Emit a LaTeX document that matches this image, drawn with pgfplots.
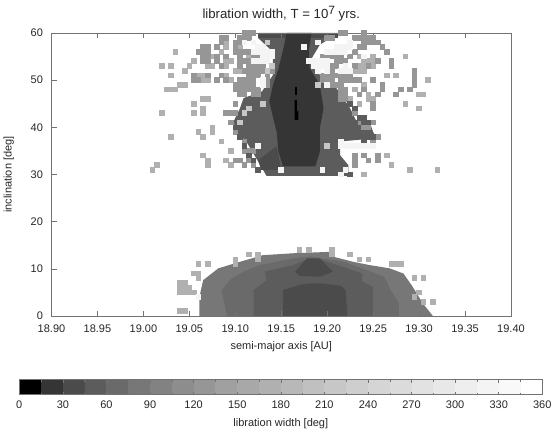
\documentclass[border=0pt]{standalone}
\usepackage{pgfplots}
\pgfplotsset{compat=1.18}
\usepackage{fontspec}
\setmainfont{Liberation Sans}
\definecolor{L0}{gray}{0}\definecolor{L1}{gray}{.208}\definecolor{L2}{gray}{.295}\definecolor{L3}{gray}{.361}
\definecolor{L4}{gray}{.417}\definecolor{L5}{gray}{.466}\definecolor{L6}{gray}{.511}\definecolor{L7}{gray}{.552}
\definecolor{L8}{gray}{.590}\definecolor{L9}{gray}{.626}\definecolor{L10}{gray}{.659}\definecolor{L11}{gray}{.692}
\definecolor{L12}{gray}{.722}\definecolor{L13}{gray}{.752}\definecolor{L14}{gray}{.780}\definecolor{L15}{gray}{.808}
\definecolor{L16}{gray}{.834}\definecolor{L17}{gray}{.860}\definecolor{L18}{gray}{.885}\definecolor{L19}{gray}{.909}
\definecolor{L20}{gray}{.933}\definecolor{L21}{gray}{.956}\definecolor{L22}{gray}{.978}\definecolor{L23}{gray}{1}
\definecolor{axc}{gray}{.45}\definecolor{txt}{gray}{.15}
\pgfplotsset{
  cell/.style={only marks,color=#1,mark=square*,mark size=2.3bp,mark options={draw=#1,fill=#1,line width=0pt}},
  reg/.style={fill=#1,draw=none,mark=none,forget plot},
  lev/.style={fill=#1,draw=none,mark=none,forget plot},
}
\begin{document}
\begin{tikzpicture}[x=1bp,y=1bp,font=\fontsize{11bp}{13bp}\selectfont]
\useasboundingbox (-51.5bp,-116bp) rectangle (500.5bp,316bp);
\begin{axis}[
  at={(0,0)},anchor=south west,scale only axis,width=459.5bp,height=283bp,
  xmin=18.9,xmax=19.4,ymin=0,ymax=60,
  xtick={18.90,18.95,19.00,19.05,19.10,19.15,19.20,19.25,19.30,19.35,19.40},
  ytick={0,10,20,30,40,50,60},
  ytick pos=left,
  tick align=inside,major tick length=5.5bp,
  tick style={color=axc,line width=.6bp},
  axis line style={color=axc,line width=.8bp},
  axis on top,
  /pgf/number format/assume math mode=true,
  ticklabel style={text=txt},
  xticklabel style={/pgf/number format/fixed,/pgf/number format/fixed zerofill,/pgf/number format/precision=2,yshift=-5bp},
  yticklabel style={xshift=-5bp},
  xlabel={semi-major axis [AU]},ylabel={inclination [deg]},
  xlabel style={yshift=-2bp},
  ylabel style={yshift=10bp},
  label style={text=txt},
  title={libration width, T = 10\raisebox{.55ex}{\fontsize{12bp}{12bp}\selectfont 7} yrs.},
  title style={text=txt,font=\fontsize{13.2bp}{15bp}\selectfont,yshift=2bp},
]
% lower dome
\addplot[reg=L5] coordinates {(19.061,0)(19.061,4.1)(19.065,7.6)(19.0815,10.1)(19.1,11.2)(19.13,12.9)(19.163,13.3)(19.203,13.6)(19.206,12.6)(19.228,11.5)(19.246,10.8)(19.268,10.1)(19.283,9)(19.293,6.2)(19.304,2.7)(19.315,0)} --cycle;
\addplot[reg=L4] coordinates {(19.091,0)(19.085,5.5)(19.096,8)(19.109,9.4)(19.127,10.8)(19.163,12.2)(19.182,12.6)(19.218,11.5)(19.238,10.1)(19.262,8.3)(19.269,5.5)(19.278,2.7)(19.278,0)} --cycle;
\addplot[reg=L3] coordinates {(19.12,0)(19.12,5.5)(19.134,7.6)(19.132,9.4)(19.163,10.8)(19.176,11.9)(19.193,11.9)(19.218,10.4)(19.238,9)(19.238,7.3)(19.25,6.2)(19.25,0)} --cycle;
\addplot[reg=L2] coordinates {(19.165,9.4)(19.178,12.2)(19.192,12.2)(19.206,9.4)(19.192,8.3)(19.17,8.5)} --cycle;
\addplot[reg=L2] coordinates {(19.152,0)(19.152,5.5)(19.17,6.6)(19.18,6.9)(19.195,6.9)(19.215,6.4)(19.22,5.5)(19.222,0)} --cycle;
% upper column
\addplot[reg=L3] coordinates {(19.125,60)(19.125,58.9)(19.141,56)(19.141,51.1)(19.129,47.6)(19.109,46.2)(19.105,44)(19.098,41.2)(19.1015,39)(19.112,37)(19.125,32.7)(19.134,29.7)(19.223,29.7)(19.223,32)(19.214,34.1)(19.214,37)(19.254,37.7)(19.25,39)(19.246,41.2)(19.232,41.2)(19.225,44)(19.21,48.3)(19.192,51.1)(19.183,54.6)(19.192,57.5)(19.212,60)} --cycle;
\addplot[reg=L2] coordinates {(19.125,60)(19.125,58.9)(19.212,58.9)(19.212,60)} --cycle;
\addplot[reg=L2] coordinates {(19.128,31)(19.125,33)(19.145,36)(19.15,31)} --cycle;
\addplot[reg=L1] coordinates {(19.156,60)(19.152,56.4)(19.147,52.5)(19.141,49)(19.137,45.5)(19.14,43)(19.145,39)(19.147,34.8)(19.152,31.7)(19.187,31.7)(19.192,34.8)(19.192,39.8)(19.196,44)(19.192,49)(19.181,52.5)(19.18,56.4)(19.183,60)} --cycle;
\addplot[reg=L0] coordinates {(19.1645,46.8)(19.1645,48.6)(19.167,48.6)(19.167,46.8)} --cycle;
\addplot[reg=L0] coordinates {(19.1645,41.6)(19.1645,45.8)(19.167,45.8)(19.167,43.5)(19.1685,43.5)(19.1685,41.6)} --cycle;
% isolated light-grey cells
\addplot[cell=L11] coordinates {(19.035,56)(19.02,53)(19.03,53)(19.03,51)(19.045,52)(19.05,53)(19.055,54)(19.04,49)(19.045,49)(19.025,48)(19.03,48)(19.035,48)(19.065,46)(19.07,46)(19.055,45)(19.055,43)(19.065,43)(19.065,44)(19.02,43)(19.03,38)(19.06,39)(19.065,38)(19.075,39)(19.075,40)(19.085,37)(19.065,34)(19.07,33)(19.07,32)(19.01,31)(19.015,32)(19.095,35)(19.095,32)(19.09,33)(19.285,55)(19.265,51)(19.275,51)(19.31,50)(19.3,47)(19.305,47)(19.225,46)(19.235,45)(19.245,46)(19.285,45)(19.3,44)(19.265,34)(19.27,32)(19.29,31)(19.32,31)(19.24,30)(19.06,11)(19.07,11)(19.04,1)(19.045,1)(19.06,8)(19.055,9)(19.06,9)(19.1,12)(19.1,11)(19.115,13)(19.125,13)(19.125,12)(19.17,14)(19.18,14)(19.205,14)(19.205,13)(19.225,13)(19.235,12)(19.245,12)(19.27,11)(19.275,11)(19.28,11)(19.295,8)(19.305,8)(19.3,5)(19.295,4)(19.305,3)(19.315,3)(19.04,7)(19.045,7)(19.04,6)(19.045,6)(19.05,6)(19.04,5)(19.045,5)(19.05,5)(19.055,5)(19.09,58)(19.09,57)(19.105,57)(19.085,56)(19.075,55)(19.115,55)(19.09,54)(19.095,54)(19.07,53)(19.075,53)(19.09,53)(19.1,52)(19.105,52)(19.06,51)(19.065,51)(19.09,51)(19.065,50)(19.07,50)(19.095,50)(19.235,53)(19.24,53)(19.235,52)(19.24,52)(19.23,52)(19.25,53)(19.235,55)(19.25,55)(19.24,54)(19.245,54)(19.25,54)(19.24,49)(19.23,48)(19.245,47)(19.25,46)};
% darker cells
\addplot[cell=L8] coordinates {(19.085,59)(19.09,59)(19.1,58)(19.1,57)(19.1,56)(19.11,59)(19.065,55)(19.065,56)(19.065,57)(19.07,55)(19.07,56)(19.07,57)(19.06,56)(19.08,57)(19.085,58)(19.07,54)(19.065,54)(19.08,54)(19.08,55)(19.085,53)(19.09,55)(19.105,56)(19.11,56)(19.055,50)(19.055,51)(19.06,50)(19.07,51)(19.08,50)(19.085,51)(19.09,50)(19.105,50)(19.11,50)(19.12,50)(19.125,55)(19.13,52)(19.11,52)(19.115,52)(19.1,48)(19.11,48)(19.12,48)(19.1,45)(19.09,43)(19.095,43)(19.1,43)(19.095,41)(19.1,39)(19.11,37)(19.11,35)(19.115,35)(19.12,35)(19.1,33)(19.105,33)(19.115,33)(19.11,32)(19.12,32)(19.235,59)(19.24,59)(19.245,59)(19.25,59)(19.24,58)(19.245,58)(19.25,58)(19.24,57)(19.255,58)(19.26,57)(19.265,56)(19.27,54)(19.27,53)(19.255,54)(19.245,53)(19.23,53)(19.23,50)(19.235,50)(19.25,50)(19.26,48)(19.26,49)(19.24,48)(19.235,47)(19.255,47)(19.295,52)(19.295,51)(19.295,50)(19.295,49)(19.29,48)(19.28,48)(19.275,47)(19.25,45)(19.25,44)(19.23,43)(19.235,41)(19.24,40)(19.245,40)(19.25,41)(19.255,38)(19.25,37)(19.23,34)(19.23,33)(19.23,32)(19.24,34)(19.245,33)(19.255,34)(19.255,33)(19.225,55)(19.23,56)(19.235,57)(19.22,54)(19.215,50)(19.22,48)(19.11,60)(19.115,60)(19.12,60)(19.105,59)(19.115,59)(19.105,58)(19.115,56)(19.105,55)(19.12,55)(19.105,54)(19.11,54)(19.115,54)(19.105,53)(19.115,53)(19.12,53)(19.125,53)(19.13,53)(19.12,52)(19.125,52)(19.14,52)(19.115,51)(19.12,51)(19.125,51)(19.135,51)(19.115,50)(19.135,50)(19.1,49)(19.105,49)(19.11,49)(19.115,49)(19.12,49)(19.135,49)(19.105,48)(19.115,48)(19.125,48)(19.105,47)(19.11,47)(19.12,47)(19.125,47)(19.215,60)(19.22,60)(19.24,60)(19.2,59)(19.205,59)(19.23,59)(19.195,55)(19.2,55)(19.205,55)(19.21,55)(19.215,55)(19.21,54)(19.215,54)(19.205,53)(19.21,53)(19.205,52)(19.195,51)(19.2,51)(19.205,51)(19.21,51)(19.215,51)(19.22,51)(19.225,51)(19.195,50)(19.2,50)(19.205,50)(19.22,50)(19.225,50)(19.205,49)(19.21,49)(19.215,49)(19.215,48)(19.215,47)(19.22,47)(19.215,46)(19.22,46)};
% jagged edge of the column
\addplot[cell=L3] coordinates {(19.1,40)(19.105,38)(19.11,36)(19.115,34)(19.125,31)(19.12,33)(19.225,30)(19.23,41)(19.24,41)(19.245,41)(19.24,42)(19.235,42)(19.25,38)(19.245,38)(19.24,37)(19.23,44)(19.225,45)};
% pale cells inside the dark areas
\addplot[cell=L21] coordinates {(19.15,31)(19.195,31)(19.125,36)(19.175,57)(19.19,58)(19.2,56)(19.18,54)(19.185,54)(19.19,54)(19.195,54)(19.2,54)(19.185,53)(19.19,53)(19.195,53)(19.2,53)(19.19,52)(19.2,52)(19.2,49)(19.215,52)(19.22,52)(19.225,52)(19.22,53)(19.21,57)(19.215,57)(19.22,57)(19.225,57)(19.205,56)(19.21,56)(19.215,56)(19.22,56)(19.225,58)(19.24,55)(19.215,36)(19.22,36)(19.225,36)(19.23,36)(19.235,36)(19.24,36)(19.245,36)(19.25,36)(19.215,37)(19.12,54)(19.125,54)(19.13,54)(19.135,54)(19.12,56)(19.125,56)(19.13,56)(19.135,56)(19.14,56)(19.125,57)(19.13,57)(19.135,55)(19.14,55)(19.13,55)(19.11,58)(19.12,58)(19.13,50)(19.13,49)(19.22,31)(19.215,30)(19.06,4)};
\addplot[cell=L14] coordinates {(19.19,49)(19.2,36)(19.115,44)(19.11,43)(19.105,41)(19.13,45)(19.135,58)(19.14,53)(19.135,52)};
\end{axis}
\begin{axis}[
  at={(-32.2bp,-78.5bp)},anchor=south west,scale only axis,width=523bp,height=14.7bp,
  xmin=0,xmax=360,ymin=0,ymax=1,ytick=\empty,
  xtick={0,30,...,360},minor xtick={15,45,...,345},
  tick align=inside,major tick length=3bp,minor tick length=2bp,
  tick style={color=axc,line width=.5bp},
  axis line style={color=axc,line width=.8bp},
  axis on top,
  /pgf/number format/assume math mode=true,
  xticklabel style={yshift=-3bp},
  ticklabel style={text=txt},
  xlabel={libration width [deg]},label style={text=txt},
  xlabel style={yshift=-3bp},
]
\addplot[lev=L0] coordinates {(0,0)(0,1)(15,1)(15,0)} --cycle;
\addplot[lev=L1] coordinates {(15,0)(15,1)(30,1)(30,0)} --cycle;
\addplot[lev=L2] coordinates {(30,0)(30,1)(45,1)(45,0)} --cycle;
\addplot[lev=L3] coordinates {(45,0)(45,1)(60,1)(60,0)} --cycle;
\addplot[lev=L4] coordinates {(60,0)(60,1)(75,1)(75,0)} --cycle;
\addplot[lev=L5] coordinates {(75,0)(75,1)(90,1)(90,0)} --cycle;
\addplot[lev=L6] coordinates {(90,0)(90,1)(105,1)(105,0)} --cycle;
\addplot[lev=L7] coordinates {(105,0)(105,1)(120,1)(120,0)} --cycle;
\addplot[lev=L8] coordinates {(120,0)(120,1)(135,1)(135,0)} --cycle;
\addplot[lev=L9] coordinates {(135,0)(135,1)(150,1)(150,0)} --cycle;
\addplot[lev=L10] coordinates {(150,0)(150,1)(165,1)(165,0)} --cycle;
\addplot[lev=L11] coordinates {(165,0)(165,1)(180,1)(180,0)} --cycle;
\addplot[lev=L12] coordinates {(180,0)(180,1)(195,1)(195,0)} --cycle;
\addplot[lev=L13] coordinates {(195,0)(195,1)(210,1)(210,0)} --cycle;
\addplot[lev=L14] coordinates {(210,0)(210,1)(225,1)(225,0)} --cycle;
\addplot[lev=L15] coordinates {(225,0)(225,1)(240,1)(240,0)} --cycle;
\addplot[lev=L16] coordinates {(240,0)(240,1)(255,1)(255,0)} --cycle;
\addplot[lev=L17] coordinates {(255,0)(255,1)(270,1)(270,0)} --cycle;
\addplot[lev=L18] coordinates {(270,0)(270,1)(285,1)(285,0)} --cycle;
\addplot[lev=L19] coordinates {(285,0)(285,1)(300,1)(300,0)} --cycle;
\addplot[lev=L20] coordinates {(300,0)(300,1)(315,1)(315,0)} --cycle;
\addplot[lev=L21] coordinates {(315,0)(315,1)(330,1)(330,0)} --cycle;
\addplot[lev=L22] coordinates {(330,0)(330,1)(345,1)(345,0)} --cycle;
\end{axis}
\end{tikzpicture}
\end{document}
